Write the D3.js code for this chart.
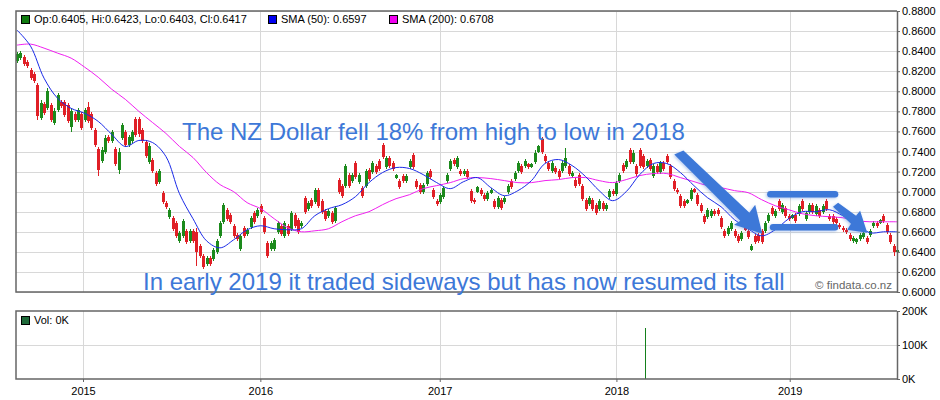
<!DOCTYPE html>
<html>
<head>
<meta charset="utf-8">
<script src="https://cdn.jsdelivr.net/npm/d3@7"></script>
<style>
  html, body { margin: 0; padding: 0; background: #fff; }
  svg { display: block; }
  text { font-family: "Liberation Sans", Arial, sans-serif; }
</style>
</head>
<body>
<svg id="chart" width="940" height="400"></svg>
<script>
// one reading per week, x runs on the bar number
var opens = [
  .830,.833,.834,.829,.821,.817,.806,.773,.787,.783,.786,.768,.781,.789,.789,.786,.764,.777,.771,.777,
  .771,.784,.777,.761,.742,.731,.740,.754,.750,.742,.722,.753,.759,.746,.750,.772,.772,.761,.749,.730,
  .732,.719,.710,.699,.689,.675,.674,.669,.651,.656,.661,.651,.661,.660,.646,.636,.628,.634,.633,.640,
  .656,.670,.682,.677,.666,.657,.643,.664,.658,.665,.679,.676,.686,.674,.649,.643,.643,.660,.666,.656,
  .666,.663,.677,.672,.666,.694,.683,.692,.690,.702,.691,.681,.676,.679,.671,.712,.706,.706,.717,.711,
  .729,.710,.704,.706,.722,.720,.726,.731,.746,.725,.734,.729,.714,.711,.716,.711,.725,.737,.711,.707,
  .700,.708,.721,.702,.691,.690,.695,.711,.723,.732,.725,.721,.718,.721,.701,.692,.700,.702,.697,.693,
  .699,.691,.685,.692,.690,.700,.711,.713,.721,.726,.726,.728,.725,.730,.740,.752,.736,.729,.721,.724,
  .721,.721,.726,.726,.716,.712,.717,.706,.692,.688,.692,.687,.683,.689,.683,.695,.701,.698,.711,.727,
  .725,.741,.730,.726,.741,.736,.726,.732,.716,.726,.720,.729,.736,.726,.711,.702,.696,.691,.689,.693,
  .703,.697,.687,.676,.675,.676,.681,.682,.674,.661,.658,.663,.661,.656,.653,.665,.661,.642,.656,.657,
  .661,.661,.671,.684,.676,.691,.680,.684,.676,.674,.677,.678,.691,.673,.680,.687,.678,.682,.680,.691,
  .676,.676,.673,.667,.664,.662,.657,.651,.650,.653,.655,.654,.657,.666,.669,.669,.676,.667,.657,.646,.640
];
var highs = [
  .839,.840,.836,.831,.823,.819,.808,.791,.789,.803,.788,.783,.798,.791,.791,.788,.783,.779,.783,.779,
  .783,.789,.779,.763,.744,.744,.756,.756,.761,.744,.743,.768,.761,.756,.761,.774,.774,.763,.751,.748,
  .734,.721,.723,.701,.691,.684,.676,.671,.661,.673,.663,.663,.663,.664,.648,.638,.636,.636,.644,.653,
  .671,.689,.684,.679,.668,.659,.658,.666,.664,.676,.681,.684,.688,.676,.651,.651,.654,.671,.668,.671,
  .668,.681,.679,.674,.671,.696,.691,.694,.704,.704,.693,.683,.683,.681,.686,.714,.708,.728,.719,.719,
  .731,.719,.706,.723,.724,.731,.728,.733,.748,.736,.736,.731,.718,.713,.718,.718,.733,.739,.713,.709,
  .709,.721,.723,.704,.693,.699,.706,.719,.733,.734,.736,.723,.723,.723,.703,.694,.706,.704,.699,.701,
  .704,.693,.696,.694,.696,.708,.713,.721,.731,.728,.733,.729,.729,.741,.746,.754,.738,.731,.731,.726,
  .723,.731,.743,.728,.721,.714,.719,.708,.694,.696,.694,.689,.693,.691,.689,.703,.703,.711,.719,.729,
  .733,.743,.741,.728,.743,.738,.733,.734,.728,.728,.731,.731,.738,.728,.713,.704,.698,.693,.693,.704,
  .704,.699,.689,.678,.684,.683,.683,.684,.676,.663,.666,.671,.663,.658,.661,.666,.663,.648,.658,.659,
  .663,.671,.679,.686,.683,.693,.689,.686,.678,.678,.679,.688,.693,.681,.689,.689,.688,.684,.688,.693,
  .678,.678,.675,.669,.666,.664,.659,.656,.654,.659,.661,.656,.663,.671,.671,.673,.678,.669,.659,.648,.646
];
var lows = [
  .828,.831,.825,.823,.811,.808,.771,.771,.776,.781,.769,.766,.779,.783,.774,.768,.759,.769,.769,.761,
  .769,.768,.761,.744,.716,.729,.738,.748,.748,.726,.718,.751,.744,.744,.748,.754,.754,.748,.734,.728,
  .719,.706,.708,.688,.683,.673,.661,.654,.649,.654,.648,.649,.649,.626,.634,.623,.626,.626,.631,.638,
  .654,.668,.671,.668,.654,.651,.641,.654,.656,.663,.668,.674,.678,.658,.634,.641,.641,.658,.656,.654,
  .656,.661,.664,.658,.664,.678,.681,.684,.688,.684,.678,.671,.674,.668,.669,.698,.694,.704,.704,.709,
  .713,.708,.694,.704,.711,.718,.718,.721,.733,.723,.724,.721,.713,.703,.709,.709,.723,.723,.703,.698,
  .698,.706,.713,.693,.686,.688,.693,.709,.721,.726,.723,.716,.716,.713,.689,.688,.699,.696,.691,.691,
  .698,.683,.683,.682,.688,.698,.703,.711,.719,.718,.724,.723,.724,.728,.739,.738,.729,.721,.719,.718,
  .713,.719,.724,.716,.714,.704,.706,.691,.681,.686,.681,.677,.681,.681,.681,.693,.696,.696,.709,.719,
  .723,.728,.728,.716,.724,.723,.724,.721,.714,.718,.718,.721,.728,.713,.701,.698,.684,.684,.688,.691,
  .699,.686,.679,.668,.673,.674,.676,.676,.663,.654,.656,.661,.654,.649,.651,.661,.653,.641,.648,.649,
  .648,.659,.669,.676,.674,.681,.678,.674,.671,.673,.669,.676,.681,.671,.678,.678,.676,.674,.678,.681,
  .671,.668,.667,.663,.660,.658,.651,.649,.648,.651,.653,.648,.655,.664,.664,.668,.669,.658,.648,.636,.639
];
var closes = [
  .837,.838,.827,.825,.813,.810,.775,.788,.778,.800,.771,.780,.796,.785,.776,.770,.780,.771,.781,.763,
  .781,.770,.763,.746,.722,.741,.753,.750,.759,.728,.740,.766,.746,.754,.759,.756,.757,.750,.736,.745,
  .721,.708,.721,.690,.685,.682,.663,.656,.659,.671,.650,.661,.651,.640,.636,.625,.634,.628,.642,.651,
  .669,.687,.673,.670,.656,.653,.656,.656,.662,.674,.670,.682,.680,.660,.636,.649,.652,.669,.658,.669,
  .658,.679,.666,.660,.669,.680,.689,.686,.702,.686,.680,.673,.681,.670,.684,.700,.696,.726,.706,.717,
  .715,.717,.696,.721,.713,.729,.720,.723,.735,.734,.726,.723,.717,.705,.711,.716,.731,.725,.705,.700,
  .707,.719,.715,.695,.688,.697,.704,.717,.731,.728,.734,.718,.721,.715,.691,.690,.705,.698,.693,.699,
  .702,.685,.694,.684,.694,.706,.705,.719,.729,.720,.731,.725,.728,.739,.745,.740,.731,.723,.729,.720,
  .715,.729,.734,.718,.719,.706,.708,.693,.683,.694,.683,.679,.691,.683,.687,.701,.698,.709,.717,.721,
  .731,.730,.739,.718,.726,.725,.731,.723,.726,.720,.729,.723,.730,.715,.703,.700,.686,.686,.692,.702,
  .700,.688,.681,.670,.682,.681,.678,.678,.665,.656,.664,.669,.656,.651,.659,.662,.655,.646,.650,.651,
  .650,.669,.677,.678,.681,.683,.687,.676,.673,.677,.671,.686,.683,.679,.687,.680,.686,.676,.686,.683,
  .673,.670,.669,.665,.662,.660,.653,.654,.653,.657,.659,.650,.661,.669,.666,.672,.671,.660,.650,.640,.642
];

// moving averages, read every fourth bar
var smaStep = 4;
var sma50 = [
  .861,.845,.813,.793,.783,.778,.770,.757,.745,.751,.749,.735,.698,.673,.651,.644,.652,.662,.666,.663,
  .662,.663,.676,.683,.687,.695,.709,.719,.724,.723,.717,.709,.703,.710,.714,.704,.696,.701,.711,.728,
  .732,.726,.715,.701,.691,.700,.717,.728,.728,.719,.706,.694,.685,.672,.663,.656,.662,.673,.680,.680,
  .682,.676,.668,.659,.660,.660
];
var sma200 = [
  .846,.847,.843,.838,.833,.824,.814,.802,.792,.780,.769,.758,.745,.734,.719,.707,.700,.689,.683,.673,
  .664,.660,.661,.663,.670,.676,.680,.687,.693,.697,.703,.706,.709,.713,.714,.713,.711,.709,.709,.711,
  .712,.714,.714,.711,.709,.712,.716,.718,.718,.714,.710,.706,.704,.701,.699,.692,.686,.682,.678,.676,
  .675,.674,.671,.670,.670,.670
];

var priceTicks = d3.range(0, 15).map(i => 0.6 + i * 0.02);
var yearLabels = ["2015", "2016", "2017", "2018", "2019"];
var yearBars = [19.5, 71.9, 124.9, 177.1, 228.3];

var volBars = [185.4];
var volValues = [150000];
var volTicks = [0, 100000, 200000];

var legendTexts = ["Op:0.6405, Hi:0.6423, Lo:0.6403, Cl:0.6417", "SMA (50): 0.6597", "SMA (200): 0.6708"];
var noteTop = "The NZ Dollar fell 18% from high to low in 2018";
var noteBottom = "In early 2019 it traded sideways but has now resumed its fall";

// hand drawn shapes on the picture, as [bar, price]
var arrowLong = [[194.2,.737],[196.9,.741],[216.4,.679],[218.1,.687],[220.2,.658],[211.9,.667],[213.7,.671]];
var arrowShort = [[241.1,.685],[242.6,.689],[247.9,.676],[249.1,.681],[251.2,.659],[245.3,.662],[246.4,.668]];
var flatTop = [[222.6,.6975],[241.7,.6975]];
var flatBottom = [[223.4,.6645],[241.7,.6645]];

var left = 16, right = 897;
var x = d3.scaleLinear().domain([0, opens.length - 1]).range([left + 1, right]);
var y = d3.scaleLinear().domain([0.6, 0.88]).range([292, 11]);
var yVol = d3.scaleLinear().domain([0, 200000]).range([379, 311]);

var svg = d3.select("#chart");
var gridColour = "#d8d8d8", frameColour = "#666666";
var upColour = "#1c8a1c", downColour = "#e01f26", noteColour = "#3d78d8";

// gridlines
function grid(target, ticks, scale, top, bottom) {
  target.selectAll(".h").data(ticks).enter().append("line")
    .attr("x1", left).attr("x2", right)
    .attr("y1", d => Math.round(scale(d))).attr("y2", d => Math.round(scale(d)))
    .attr("stroke", gridColour);
  target.selectAll(".v").data(yearBars).enter().append("line")
    .attr("x1", d => Math.round(x(d))).attr("x2", d => Math.round(x(d)))
    .attr("y1", top).attr("y2", bottom)
    .attr("stroke", gridColour);
}
var main = svg.append("g").attr("shape-rendering", "crispEdges");
grid(main, priceTicks, y, 11, 292);
var volPane = svg.append("g").attr("shape-rendering", "crispEdges");
grid(volPane, [100000], yVol, 311, 379);

// candles
var bars = svg.append("g").attr("shape-rendering", "crispEdges");
bars.selectAll(".wick").data(opens).enter().append("line")
  .attr("x1", (d, i) => Math.round(x(i)) + .5).attr("x2", (d, i) => Math.round(x(i)) + .5)
  .attr("y1", (d, i) => y(highs[i])).attr("y2", (d, i) => y(lows[i]))
  .attr("stroke", (d, i) => closes[i] >= d ? upColour : downColour);
bars.selectAll(".body").data(opens).enter().append("rect")
  .attr("x", (d, i) => Math.round(x(i)) - 1)
  .attr("width", 3)
  .attr("y", (d, i) => y(Math.max(d, closes[i])))
  .attr("height", (d, i) => Math.abs(y(d) - y(closes[i])))
  .attr("fill", (d, i) => closes[i] >= d ? upColour : downColour);

// moving averages
var line = d3.line().x((d, i) => x(i * smaStep)).y(d => y(d)).curve(d3.curveCatmullRom);
svg.append("path").attr("d", line(sma200)).attr("fill", "none").attr("stroke", "#f020f0").attr("stroke-width", 1);
svg.append("path").attr("d", line(sma50)).attr("fill", "none").attr("stroke", "#1a2ae8").attr("stroke-width", 1);

// volume
svg.append("g").selectAll("rect").data(volValues).enter().append("rect")
  .attr("x", (d, i) => Math.round(x(volBars[i])))
  .attr("width", 1)
  .attr("y", d => yVol(d))
  .attr("height", d => yVol(0) - yVol(d))
  .attr("fill", "#14801c");

// frames
function frame(top, bottom) {
  svg.append("path")
    .attr("d", d3.line()([[right, top], [left, top], [left, bottom], [right, bottom]]))
    .attr("fill", "none").attr("stroke", frameColour).attr("stroke-width", 1.5);
}
frame(11, 292);
frame(311, 379);

// axes
function styleAxis(g) {
  g.select(".domain").attr("stroke", frameColour).attr("stroke-width", 1.5);
  g.selectAll("line").attr("stroke", frameColour);
  g.selectAll("text").attr("fill", "#000").style("font-size", "11px").style("font-family", '"Liberation Sans", Arial, sans-serif');
}
svg.append("g").attr("transform", "translate(" + right + ",0)")
  .call(d3.axisRight(y).tickValues(priceTicks).tickFormat(d3.format(".4f")).tickSize(3).tickPadding(2).tickSizeOuter(0))
  .call(styleAxis);
svg.append("g").attr("transform", "translate(" + right + ",0)")
  .call(d3.axisRight(yVol).tickValues(volTicks).tickFormat(d => (d / 1000) + "K").tickSize(3).tickPadding(2).tickSizeOuter(0))
  .call(styleAxis);
svg.append("g").attr("transform", "translate(0,379)")
  .call(d3.axisBottom(x).tickValues(yearBars).tickFormat((d, i) => yearLabels[i]).tickSize(3).tickPadding(5).tickSizeOuter(0))
  .call(g => g.select(".domain").remove())
  .call(styleAxis);

// legends
function legend(xPos, yPos, colour, label) {
  svg.append("rect").attr("x", xPos).attr("y", yPos - 4).attr("width", 8).attr("height", 8)
    .attr("fill", colour).attr("stroke", "#000").attr("shape-rendering", "crispEdges");
  svg.append("text").attr("x", xPos + 13).attr("y", yPos + 4).style("font-size", "11px").text(label);
}
legend(21, 19, "#0f7a0f", legendTexts[0]);
legend(268, 19, "#0000f0", legendTexts[1]);
legend(389, 19, "#f000f0", legendTexts[2]);
legend(21, 320, "#1f6a3a", "Vol: 0K");

svg.append("text").attr("x", 892).attr("y", 289).attr("text-anchor", "end")
  .attr("fill", "#666").style("font-size", "11.5px").text("\u00a9 findata.co.nz");

// annotations
var defs = svg.append("defs");
defs.append("filter").attr("id", "soft").attr("x", "-20%").attr("y", "-20%").attr("width", "140%").attr("height", "140%")
  .append("feDropShadow").attr("dx", -1).attr("dy", 1).attr("stdDeviation", 1.5)
  .attr("flood-color", "#3d78d8").attr("flood-opacity", .4);

var notes = svg.append("g").attr("filter", "url(#soft)");
[arrowLong, arrowShort].forEach(shape => {
  notes.append("polygon")
    .attr("points", shape.map(p => x(p[0]) + "," + y(p[1])).join(" "))
    .attr("fill", noteColour);
});
[flatTop, flatBottom].forEach(seg => {
  notes.append("path")
    .attr("d", d3.line().x(p => x(p[0])).y(p => y(p[1]))(seg))
    .attr("fill", "none").attr("stroke", noteColour).attr("stroke-width", 6.5).attr("stroke-linecap", "round");
});
svg.append("text").attr("x", 182).attr("y", 140).attr("fill", noteColour).style("font-size", "24px").text(noteTop);
svg.append("text").attr("x", 143).attr("y", 290).attr("fill", noteColour).style("font-size", "24px").text(noteBottom);
</script>
</body>
</html>
